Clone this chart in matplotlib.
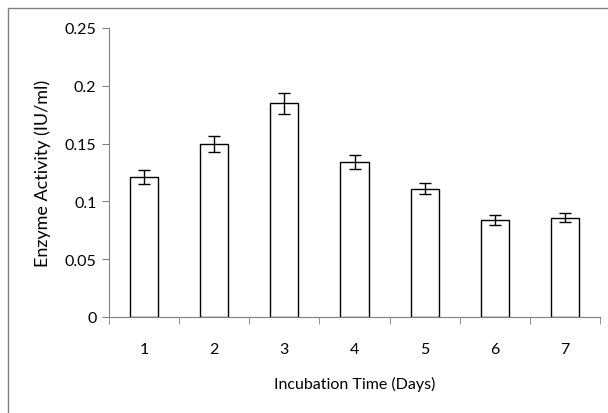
import numpy as np
import matplotlib.pyplot as plt
from matplotlib.patches import Rectangle

# Datos
days = ['1', '2', '3', '4', '5', '6', '7']
activity = [0.121, 0.150, 0.185, 0.134, 0.111, 0.084, 0.086]
error = [0.006, 0.007, 0.009, 0.006, 0.005, 0.004, 0.004]

plt.rcParams['font.family'] = ['Lato', 'DejaVu Sans']

fig = plt.figure(figsize=(6.08, 4.14), dpi=100)
# marco exterior gris
fig.patches.append(Rectangle((8 / 608, -0.1), 1.0, 1 - 9 / 414 + 0.1, transform=fig.transFigure,
                             fill=False, edgecolor='#808080', lw=1.0))

ax = fig.add_axes([109 / 608, 96 / 414, 491 / 608, 289 / 414])
x = np.arange(len(days))
ax.bar(x, activity, width=0.4, color='white', edgecolor='black', lw=1.0,
       yerr=error, capsize=4, error_kw=dict(ecolor='black', elinewidth=1.0, capthick=1.0))

ax.set_xlim(-0.5, len(days) - 0.5)
ax.set_ylim(0, 0.25)
ax.set_yticks([0, 0.05, 0.1, 0.15, 0.2, 0.25])
ax.set_yticklabels(['0', '0.05', '0.1', '0.15', '0.2', '0.25'])
ax.set_xticks(x)
ax.set_xticklabels(days)
ax.set_xticks(np.arange(-0.5, len(days)), minor=True)
ax.tick_params(axis='x', which='major', length=0, pad=18, labelsize=11.5)
ax.tick_params(axis='x', which='minor', length=5, color='#808080')
ax.tick_params(axis='y', length=5, color='#808080', labelsize=11.5, pad=4)

for s in ['top', 'right']:
    ax.spines[s].set_visible(False)
for s in ['left', 'bottom']:
    ax.spines[s].set_color('#808080')

ax.set_xlabel('Incubation Time (Days)', fontsize=11.5, labelpad=14)
ax.set_ylabel('Enzyme Activity (IU/ml)', fontsize=13, labelpad=10)

fig.savefig('out.png', dpi=100)
